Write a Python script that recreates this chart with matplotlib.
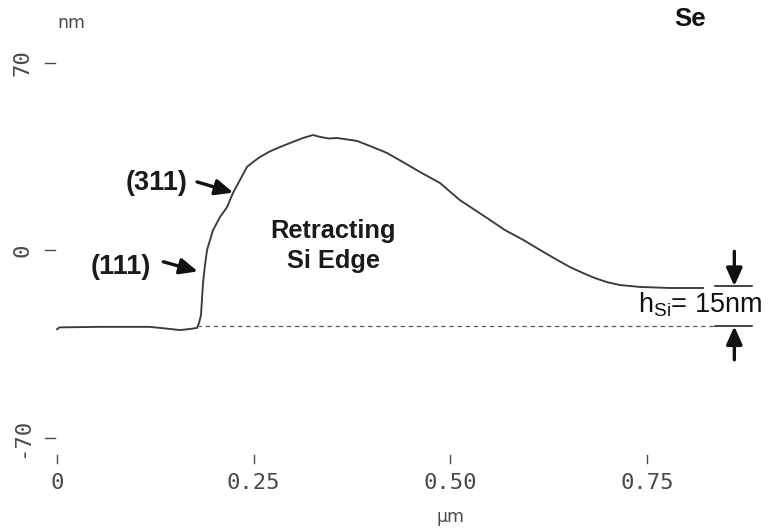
import matplotlib
matplotlib.use("Agg")
import matplotlib.pyplot as plt

# AFM line profile across the retracting Si edge
position_um = [0.000, 0.003, 0.055, 0.118, 0.144, 0.156, 0.169, 0.178, 0.1805,
               0.183, 0.1856, 0.1881, 0.1907, 0.1983, 0.2072, 0.2161, 0.2237,
               0.2415, 0.2491, 0.258, 0.2707, 0.2834, 0.2961, 0.3127, 0.3254,
               0.3343, 0.3457, 0.3559, 0.3813, 0.3979, 0.4195, 0.4398, 0.4614,
               0.4868, 0.5122, 0.5504, 0.5695, 0.5924, 0.6140, 0.6356, 0.6521,
               0.6686, 0.6838, 0.6991, 0.7156, 0.741, 0.7792, 0.8212]
height_nm = [-29.4, -28.7, -28.5, -28.5, -29.3, -29.7, -29.3, -28.9, -27.1,
             -24.1, -12.1, -5.4, 0.2, 7.6, 12.5, 16.2, 21.5,
             31.2, 33.0, 34.9, 37.0, 38.6, 40.1, 42.0, 43.1,
             42.4, 41.8, 42.0, 40.9, 39.0, 36.4, 33.0, 29.3,
             25.2, 18.8, 11.4, 7.6, 4.0, 0.2, -3.5, -6.2,
             -8.4, -10.3, -11.8, -12.9, -13.6, -14.0, -14.0]

x_ticks = [0.0, 0.25, 0.50, 0.75]
x_tick_labels = ["0", "0.25", "0.50", "0.75"]
y_ticks = [70, 0, -70]
y_tick_labels = ["70", "0", "-70"]

plateau_nm = -13.3      # film level to the right of the edge
h_si_nm = 15            # Si thickness quoted in the label
facet_labels = ["(311)", "(111)"]

fig = plt.figure(figsize=(7.68, 5.31), dpi=100)
ax = fig.add_axes([0, 0, 1, 1])
ax.set_xlim(-0.0725, 0.9038)
ax.set_ylim(-104.7, 93.5)
ax.axis("off")

ink = "#3a3a3a"
soft = "#4a4a4a"

# profile
ax.plot(position_um, height_nm, color=ink, lw=1.35, solid_joinstyle="round")

# reference level of the bare substrate
base_nm = plateau_nm - h_si_nm
ax.plot([0.178, 0.836], [base_nm, base_nm], color="#5a5a5a", lw=0.9,
        dashes=(3.5, 3))

# y ticks
for v, lab in zip(y_ticks, y_tick_labels):
    ax.plot([-0.0153, -0.0025], [v, v], color=soft, lw=1.0)
    ax.text(-0.0445, v, lab, rotation=90, ha="center", va="center",
            family="DejaVu Sans Mono", fontsize=16, color=soft)

# x ticks
for v, lab in zip(x_ticks, x_tick_labels):
    ax.plot([v, v], [-76.3, -79.3], color=soft, lw=1.0)
    ax.text(v, -86.8, lab, ha="center", va="center",
            family="DejaVu Sans Mono", fontsize=16, color=soft)

ax.text(0.0178, 84.9, "nm", ha="center", va="center", fontsize=12.5,
        color=soft)
ax.text(0.5008, -99.6, "µm", ha="center", va="center", fontsize=12.5,
        color=soft)
ax.text(0.8046, 86.4, "Se", ha="center", va="center", fontsize=18.5,
        color="#111111", family="Liberation Sans", fontweight="bold")

# facet labels and arrows
bold = dict(family="Liberation Sans", fontweight="bold", color="#1a1a1a")
ax.text(0.126, 25.3, facet_labels[0], ha="center", va="center",
        fontsize=19.5, **bold)
ax.text(0.081, -6.2, facet_labels[1], ha="center", va="center",
        fontsize=19.5, **bold)
arrow_kw = dict(arrowstyle="-|>,head_length=0.9,head_width=0.4",
                color="#111111", lw=2.4, mutation_scale=12,
                shrinkA=0, shrinkB=0)
ax.annotate("", xy=(0.224, 21.6), xytext=(0.178, 25.6), arrowprops=arrow_kw)
ax.annotate("", xy=(0.179, -7.8), xytext=(0.135, -4.2), arrowprops=arrow_kw)

ax.text(0.351, 4.8, "Retracting", ha="center", va="baseline",
        fontsize=18.3, **bold)
ax.text(0.351, -6.5, "Si Edge", ha="center", va="baseline",
        fontsize=18.3, **bold)

# thickness marker on the right
ax.plot([0.836, 0.883], [plateau_nm, plateau_nm], color="#111111", lw=1.1)
ax.plot([0.836, 0.883], [base_nm, base_nm], color="#111111", lw=1.1)
ax.annotate("", xy=(0.861, plateau_nm), xytext=(0.861, plateau_nm + 13),
            arrowprops=arrow_kw)
ax.annotate("", xy=(0.861, base_nm), xytext=(0.861, base_nm - 12.5),
            arrowprops=arrow_kw)
ax.text(0.7386, -23.0, r"h$_{\mathregular{Si}}$= %dnm" % h_si_nm,
        ha="left", va="baseline", fontsize=19.5, family="Liberation Sans",
        color="#111111")

fig.savefig("out.png", dpi=100)
